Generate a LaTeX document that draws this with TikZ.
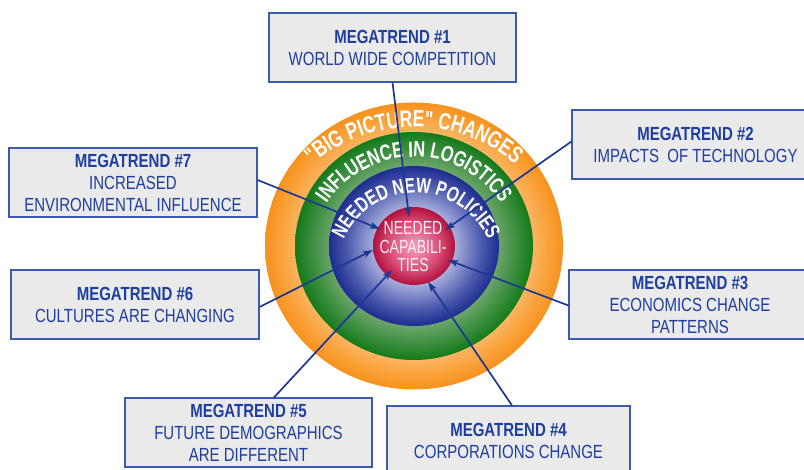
\documentclass[tikz,border=0pt]{standalone}
\usepackage{fontspec}
\newfontfamily\boxfont[FakeStretch=0.79]{Liberation Sans}
\newfontfamily\arcfont[FakeStretch=0.74]{Liberation Sans}
\usetikzlibrary{arrows.meta,decorations.text}
\definecolor{txtblue}{RGB}{30,62,160}
\definecolor{boxline}{RGB}{60,90,175}
\definecolor{boxfill}{RGB}{234,234,234}
\definecolor{arrowblue}{RGB}{28,56,148}
\definecolor{coretext}{RGB}{255,236,242}
\definecolor{orA}{RGB}{251,180,96}
\definecolor{orB}{RGB}{249,162,58}
\definecolor{orC}{RGB}{247,146,30}
\definecolor{grA}{RGB}{140,190,140}
\definecolor{grB}{RGB}{104,164,104}
\definecolor{grC}{RGB}{20,122,26}
\definecolor{blA}{RGB}{205,208,238}
\definecolor{blB}{RGB}{168,175,220}
\definecolor{blC}{RGB}{74,88,172}
\definecolor{blD}{RGB}{30,44,144}
\definecolor{rdA}{RGB}{246,160,190}
\definecolor{rdB}{RGB}{218,80,122}
\definecolor{rdC}{RGB}{176,18,60}
\pgfdeclareradialshading{orangering}{\pgfpoint{0bp}{0bp}}{color(0bp)=(orA); color(20bp)=(orA); color(22.5bp)=(orB); color(25bp)=(orC); color(50bp)=(orC)}
\pgfdeclareradialshading{greenring}{\pgfpoint{0bp}{0bp}}{color(0bp)=(grA); color(17.85bp)=(grB); color(25bp)=(grC); color(50bp)=(grC)}
\pgfdeclareradialshading{bluering}{\pgfpoint{0bp}{0bp}}{color(0bp)=(blA); color(12bp)=(blB); color(20bp)=(blC); color(25bp)=(blD); color(50bp)=(blD)}
\pgfdeclareradialshading{redcore}{\pgfpoint{0bp}{0bp}}{color(0bp)=(rdA); color(15bp)=(rdB); color(25bp)=(rdC); color(50bp)=(rdC)}
\begin{document}
\begin{tikzpicture}[x=1pt,y=1pt,
  mbox/.style={draw=boxline, line width=1.1pt, fill=boxfill, minimum height=69pt,
    inner sep=0pt, align=center, text=txtblue,
    font=\boxfont\fontsize{19}{22}\selectfont},
  conn/.style={draw=arrowblue, line width=1.7pt,
    -{Stealth[length=10pt,width=6.5pt,inset=2pt]}},
  ringtext/.style={decorate, decoration={text along path, text align=center, text={#1}}}]
\useasboundingbox (0,0) rectangle (804,470);
\coordinate (C) at (414,224);
% rings
\shade[shading=orangering] (C) ellipse [x radius=149, y radius=143.5];
\shade[shading=greenring] (C) ellipse [x radius=119, y radius=114];
\shade[shading=bluering] (C) ellipse [x radius=85, y radius=80];
\shade[shading=redcore] (C) ellipse [x radius=41, y radius=39];
% ring texts
\path[ringtext={|\arcfont\bfseries\fontsize{23.5}{23.5}\selectfont\color{white}|"BIG PICTURE" CHANGES}]
  (414,187) ++(150:156) arc[start angle=150, end angle=30, radius=156];
\path[ringtext={|\arcfont\bfseries\fontsize{22}{22}\selectfont\color{white}|INFLUENCE IN LOGISTICS}]
  (414,208) ++(165:105) arc[start angle=165, end angle=15, radius=105];
\path[ringtext={|\arcfont\bfseries\fontsize{21}{21}\selectfont\color{white}|NEEDED NEW POLICIES}]
  (416,198) ++(175:79) arc[start angle=175, end angle=5, radius=79];
\node[align=center, text=coretext, inner sep=0pt,
  font=\arcfont\fontsize{19}{18.3}\selectfont] (core) at (413,223.3) {NEEDED\\CAPABILI-\\TIES};
% boxes
\node[mbox, minimum width=247pt] (b1) at (392.5,422.5) {\textbf{MEGATREND \#1}\\WORLD WIDE COMPETITION};
\node[mbox, minimum width=247pt] (b2) at (695.5,325.5) {\textbf{MEGATREND \#2}\\IMPACTS\ \ OF TECHNOLOGY};
\node[mbox, minimum width=242pt] (b3) at (690,165.5) {\textbf{MEGATREND \#3}\\ECONOMICS CHANGE\\PATTERNS};
\node[mbox, minimum width=243pt] (b4) at (508.5,29.5) {\textbf{MEGATREND \#4}\\CORPORATIONS CHANGE};
\node[mbox, minimum width=247pt] (b5) at (248.5,37.5) {\textbf{MEGATREND \#5}\\FUTURE DEMOGRAPHICS\\ARE DIFFERENT};
\node[mbox, minimum width=248pt] (b6) at (135,165.5) {\textbf{MEGATREND \#6}\\CULTURES ARE CHANGING};
\node[mbox, minimum width=248pt] (b7) at (133,287.5) {\textbf{MEGATREND \#7}\\INCREASED\\ENVIRONMENTAL INFLUENCE};
% arrow tips
\coordinate (t1) at (409,253.3);
\coordinate (t2) at (445,240);
\coordinate (t3) at (448,210);
\coordinate (t4) at (428,188.3);
\coordinate (t5) at (392,200);
\coordinate (t6) at (373,220);
\coordinate (t7) at (380,241);
% connectors
\draw[conn] (b1.south) -- (t1);
\draw[conn] ([yshift=3pt]b2.west) -- (t2);
\draw[conn] ([yshift=-1pt]b3.west) -- (t3);
\draw[conn] ([xshift=3.5pt]b4.north) -- (t4);
\draw[conn] ([xshift=25.5pt]b5.north) -- (t5);
\draw[conn] ([yshift=-2.5pt]b6.east) -- (t6);
\draw[conn] ([yshift=2.5pt]b7.east) -- (t7);
\end{tikzpicture}
\end{document}
